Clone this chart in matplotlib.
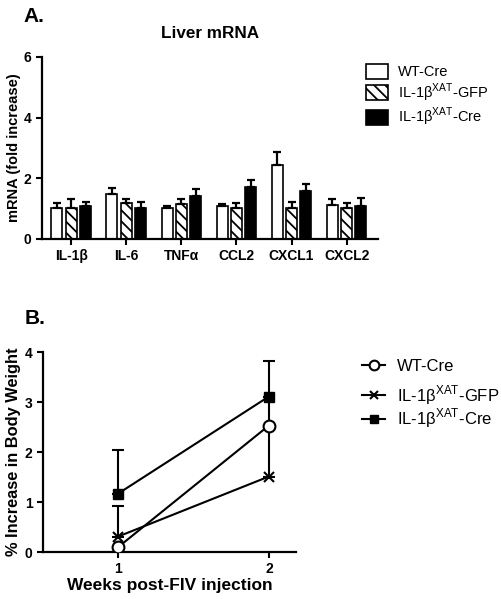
import numpy as np
import matplotlib
matplotlib.use("Agg")
import matplotlib.pyplot as plt

plt.rcParams['font.family'] = ['Liberation Sans', 'DejaVu Sans']
plt.rcParams['mathtext.fontset'] = 'custom'
plt.rcParams['mathtext.rm'] = 'Liberation Sans'
plt.rcParams['hatch.linewidth'] = 1.3

# Panel A: liver mRNA (fold increase)
genes = ['IL-1β', 'IL-6', 'TNFα', 'CCL2', 'CXCL1', 'CXCL2']
wt_cre = [1.03, 1.50, 1.03, 1.10, 2.44, 1.12]
wt_cre_err = [0.15, 0.18, 0.05, 0.04, 0.44, 0.20]
gfp = [1.03, 1.18, 1.15, 1.03, 1.03, 1.03]
gfp_err = [0.29, 0.14, 0.16, 0.15, 0.20, 0.17]
cre = [1.08, 1.03, 1.43, 1.73, 1.59, 1.10]
cre_err = [0.13, 0.20, 0.21, 0.22, 0.21, 0.26]

# Panel B: body weight
weeks = [1, 2]
bw_wt = [0.10, 2.53]
bw_wt_err = [0.0, 0.0]
bw_gfp = [0.31, 1.51]
bw_gfp_err = [0.62, 1.60]
bw_cre = [1.17, 3.11]
bw_cre_err = [0.87, 0.72]

group_names = ['WT-Cre', 'IL-1β$^{\\mathrm{XAT}}$-GFP', 'IL-1β$^{\\mathrm{XAT}}$-Cre']

fig = plt.figure(figsize=(5.02, 5.99), dpi=100)

# ---- Panel A ----
axA = fig.add_axes([42/502, 1-239/599, (378-42)/502, (239-57)/599])
x = np.arange(len(genes))
w = 0.2
off = 0.26
kw = dict(width=w, edgecolor='black', linewidth=1.2, zorder=2)
ekw = dict(elinewidth=1.6, capthick=1.6, capsize=3)
zeros = np.zeros(len(genes))
b1 = axA.bar(x - off, wt_cre, color='white', yerr=[zeros, wt_cre_err],
             error_kw=ekw, **kw)
b2 = axA.bar(x, gfp, color='white', hatch='\\\\\\', yerr=[zeros, gfp_err],
             error_kw=ekw, **kw)
b3 = axA.bar(x + off, cre, color='black', yerr=[zeros, cre_err],
             error_kw=ekw, **kw)
axA.set_xlim(-0.53, 5.57)
axA.set_ylim(0, 6)
axA.set_yticks([0, 2, 4, 6])
axA.set_xticks(x)
axA.set_xticklabels(genes)
axA.set_ylabel('mRNA (fold increase)', fontsize=10.5, fontweight='bold', labelpad=2)
axA.set_title('Liver mRNA', fontsize=12.3, fontweight='bold', pad=14)

fig.legend([b1, b2, b3], group_names, loc='upper left',
           bbox_to_anchor=(366/502, 1-64/599), frameon=False,
           fontsize=10.5, handlelength=1.5, handleheight=1.2,
           handletextpad=0.7, labelspacing=0.15, borderpad=0, borderaxespad=0)

# ---- Panel B ----
axB = fig.add_axes([43/502, 1-552/599, (296-43)/502, (552-352)/599])
lkw = dict(color='black', linewidth=1.5, capsize=4, elinewidth=1.5, capthick=1.5)
axB.errorbar(weeks, bw_wt, yerr=[[0, 0], bw_wt_err], marker='o', markersize=8.5,
             markerfacecolor='white', markeredgewidth=1.5, zorder=3, **lkw)
axB.errorbar(weeks, bw_gfp, yerr=[[0, 0], bw_gfp_err], marker='x', markersize=7,
             markeredgewidth=1.5, zorder=2, **lkw)
axB.errorbar(weeks, bw_cre, yerr=[[0, 0], bw_cre_err], marker='s', markersize=7,
             zorder=2, **lkw)
axB.set_xlim(0.5, 2.18)
axB.set_ylim(0, 4)
axB.set_xticks(weeks)
axB.set_yticks([0, 1, 2, 3, 4])
axB.set_ylabel('% Increase in Body Weight', fontsize=11.8, fontweight='bold', labelpad=3)
axB.set_xlabel('Weeks post-FIV injection', fontsize=12.5, fontweight='bold', labelpad=1)

h1 = plt.Line2D([], [], color='black', lw=1.5, marker='o', markersize=7,
                markerfacecolor='white', markeredgewidth=1.5)
h2 = plt.Line2D([], [], color='black', lw=1.5, marker='x', markersize=6,
                markeredgewidth=1.5)
h3 = plt.Line2D([], [], color='black', lw=1.5, marker='s', markersize=6)
fig.legend([h1], group_names[:1], loc='upper left',
           bbox_to_anchor=(362/502, 1-359/599), frameon=False, fontsize=12,
           handlelength=1.4, handletextpad=0.7, borderpad=0, borderaxespad=0)
fig.legend([h2, h3], group_names[1:], loc='upper left',
           bbox_to_anchor=(362/502, 1-383/599), frameon=False, fontsize=12,
           handlelength=1.4, handletextpad=0.7, labelspacing=0.0,
           borderpad=0, borderaxespad=0)

for ax in (axA, axB):
    for s in ('top', 'right'):
        ax.spines[s].set_visible(False)
    for s in ('left', 'bottom'):
        ax.spines[s].set_linewidth(1.6)
    ax.tick_params(width=1.5, length=4, labelsize=10)
    for lab in ax.get_xticklabels() + ax.get_yticklabels():
        lab.set_fontweight('bold')

fig.text(23/502, 1-16/599, 'A.', fontsize=15, fontweight='bold', va='center')
fig.text(25/502, 1-318/599, 'B.', fontsize=15, fontweight='bold', va='center')

fig.savefig('out.png', dpi=100)
